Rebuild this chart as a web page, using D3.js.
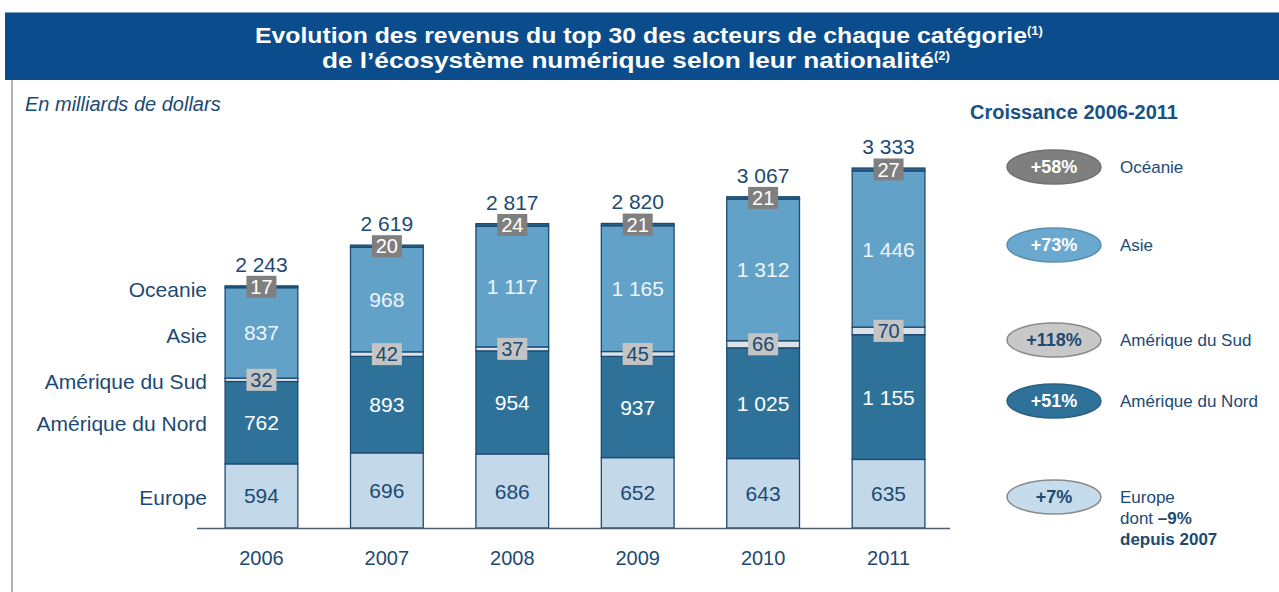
<!DOCTYPE html>
<html lang="fr">
<head>
  <meta charset="utf-8" />
  <title>Evolution des revenus du top 30</title>
  <script src="https://cdn.jsdelivr.net/npm/d3@7"></script>
  <style>
    body { margin: 0; background: #fff; }
    svg text { font-family: "Liberation Sans", Arial, sans-serif; }
  </style>
</head>
<body>
<div id="chart"></div>
<script>
  // données (milliards de dollars)
  const years = ["2006", "2007", "2008", "2009", "2010", "2011"];
  const europe = [594, 696, 686, 652, 643, 635];
  const nordAm = [762, 893, 954, 937, 1025, 1155];
  const sudAm = [32, 42, 37, 45, 66, 70];
  const asie = [837, 968, 1117, 1165, 1312, 1446];
  const oceanie = [17, 20, 24, 21, 21, 27];
  const totals = [2243, 2619, 2817, 2820, 3067, 3333];

  const regions = ["Europe", "Amérique du Nord", "Amérique du Sud", "Asie", "Oceanie"];
  const growth = ["+7%", "+51%", "+118%", "+73%", "+58%"];

  const W = 1279, H = 592;
  const navy = "#1c4a72";
  const fmt = d3.formatLocale({ decimal: ",", thousands: "\u00a0", grouping: [3], currency: ["", " $"] }).format(",d");

  const svg = d3.select("#chart").append("svg")
    .attr("width", W).attr("height", H);

  // bandeau titre
  svg.append("rect").attr("x", 5).attr("y", 12).attr("width", W - 5).attr("height", 68)
    .attr("fill", "#0b4d8c");
  svg.append("line").attr("x1", 5).attr("x2", W).attr("y1", 12.5).attr("y2", 12.5)
    .attr("stroke", "#7f9fc0").attr("stroke-width", 1);
  const t1 = svg.append("text").attr("x", 255).attr("y", 43)
    .attr("fill", "#fff").attr("font-weight", "bold").attr("font-size", 22);
  t1.append("tspan").attr("textLength", 772).attr("lengthAdjust", "spacingAndGlyphs")
    .text("Evolution des revenus du top 30 des acteurs de chaque catégorie");
  t1.append("tspan").attr("font-size", 13).attr("dy", -8).text("(1)");
  const t2 = svg.append("text").attr("x", 322).attr("y", 68)
    .attr("fill", "#fff").attr("font-weight", "bold").attr("font-size", 22);
  t2.append("tspan").attr("textLength", 612).attr("lengthAdjust", "spacingAndGlyphs")
    .text("de l’écosystème numérique selon leur nationalité");
  t2.append("tspan").attr("font-size", 13).attr("dy", -8).text("(2)");

  // filet gauche
  svg.append("line").attr("x1", 12).attr("x2", 12).attr("y1", 80).attr("y2", H)
    .attr("stroke", "#9a9a9a").attr("stroke-width", 1.5);

  svg.append("text").attr("x", 25).attr("y", 111).attr("font-style", "italic")
    .attr("font-size", 20).attr("fill", navy).text("En milliards de dollars");

  // échelles
  const x = d3.scaleBand().domain(years).range([200, 950]).paddingInner(0.42).paddingOuter(0.2);
  const y = d3.scaleLinear().domain([0, 3500]).range([528, 150]);

  const stackData = years.map((yr, i) => ({
    year: yr, Europe: europe[i], "Amérique du Nord": nordAm[i], "Amérique du Sud": sudAm[i],
    Asie: asie[i], Oceanie: oceanie[i], total: totals[i]
  }));
  const series = d3.stack().keys(regions)(stackData);

  const fills = {
    "Europe": "#c3d9ea",
    "Amérique du Nord": "#2f7299",
    "Amérique du Sud": "#dce2e7",
    "Asie": "#63a2c8",
    "Oceanie": "#2c6488"
  };

  const g = svg.append("g");
  series.forEach(s => {
    g.selectAll(null).data(s).join("rect")
      .attr("x", d => x(d.data.year))
      .attr("width", x.bandwidth())
      .attr("y", d => y(d[1]))
      .attr("height", d => y(d[0]) - y(d[1]))
      .attr("fill", fills[s.key])
      .attr("stroke", navy).attr("stroke-width", 1.3);
  });

  // axe
  svg.append("line").attr("x1", 197).attr("x2", 950).attr("y1", 528.5).attr("y2", 528.5)
    .attr("stroke", "#51606e").attr("stroke-width", 1.5);
  const xAxis = svg.append("g").attr("transform", "translate(0,528)")
    .call(d3.axisBottom(x).tickSize(0).tickPadding(23));
  xAxis.select(".domain").remove();
  xAxis.selectAll("text").attr("font-size", 20).attr("fill", navy)
    .attr("font-family", "Liberation Sans, Arial, sans-serif");

  const cx = d => x(d.data.year) + x.bandwidth() / 2;
  const mid = d => (y(d[0]) + y(d[1])) / 2;

  // étiquettes internes
  const inner = [
    { s: series[0], color: navy },
    { s: series[1], color: "#ffffff" },
    { s: series[3], color: "#eef5fb" }
  ];
  inner.forEach(o => {
    g.selectAll(null).data(o.s).join("text")
      .attr("x", cx).attr("y", mid).attr("dy", "0.36em")
      .attr("text-anchor", "middle").attr("font-size", 21).attr("fill", o.color)
      .text(d => fmt(d[1] - d[0]));
  });

  // pastilles Amérique du Sud et Océanie
  function boxes(s, fill, color) {
    const b = g.selectAll(null).data(s).join("g")
      .attr("transform", d => `translate(${cx(d)},${mid(d)})`);
    b.append("rect").attr("x", -15).attr("y", -11).attr("width", 30).attr("height", 22).attr("fill", fill);
    b.append("text").attr("text-anchor", "middle").attr("dy", "0.36em").attr("font-size", 20)
      .attr("fill", color).text(d => fmt(d[1] - d[0]));
  }
  boxes(series[2], "#c4c4c4", navy);
  boxes(series[4], "#7f7f7f", "#ffffff");

  // totaux
  g.selectAll(null).data(series[4]).join("text")
    .attr("x", cx).attr("y", d => y(d[1]) - 14)
    .attr("text-anchor", "middle").attr("font-size", 21).attr("fill", navy)
    .text(d => fmt(d.data.total));

  // noms des régions à gauche
  const leftY = { "Europe": 497, "Amérique du Nord": 423, "Amérique du Sud": 381, "Asie": 335, "Oceanie": 289 };
  regions.forEach(r => {
    svg.append("text").attr("x", 207).attr("y", leftY[r]).attr("dy", "0.36em")
      .attr("text-anchor", "end").attr("font-size", 21).attr("fill", navy).text(r);
  });

  // croissance 2006-2011
  svg.append("text").attr("x", 970).attr("y", 119).attr("font-size", 20).attr("font-weight", "bold")
    .attr("fill", "#1a5184").text("Croissance 2006-2011");

  const legend = [
    { key: "Oceanie", lbl: "Océanie", y: 167, fill: "#7f7f7f", stroke: "#707070", tc: "#ffffff" },
    { key: "Asie", lbl: "Asie", y: 245, fill: "#6aa8d0", stroke: "#5a8fb0", tc: "#ffffff" },
    { key: "Amérique du Sud", lbl: "Amérique du Sud", y: 340, fill: "#c8c8c8", stroke: "#8a8a8a", tc: navy },
    { key: "Amérique du Nord", lbl: "Amérique du Nord", y: 401, fill: "#2f7299", stroke: "#2a5f80", tc: "#ffffff" },
    { key: "Europe", lbl: "Europe", y: 497, fill: "#c6dcec", stroke: "#8a8a8a", tc: navy }
  ];
  legend.forEach(l => {
    const gr = growth[regions.indexOf(l.key)];
    svg.append("ellipse").attr("cx", 1054).attr("cy", l.y).attr("rx", 47).attr("ry", 17)
      .attr("fill", l.fill).attr("stroke", l.stroke).attr("stroke-width", 1.5);
    svg.append("text").attr("x", 1054).attr("y", l.y).attr("dy", "0.36em").attr("text-anchor", "middle")
      .attr("font-size", 18).attr("font-weight", "bold").attr("fill", l.tc).text(gr);
    svg.append("text").attr("x", 1120).attr("y", l.y).attr("dy", "0.36em")
      .attr("font-size", 17).attr("fill", navy).text(l.lbl);
  });
  const eu = svg.append("text").attr("x", 1120).attr("y", 518).attr("dy", "0.36em")
    .attr("font-size", 17).attr("fill", navy);
  eu.append("tspan").text("dont ");
  eu.append("tspan").attr("font-weight", "bold").text("–9%");
  svg.append("text").attr("x", 1120).attr("y", 539).attr("dy", "0.36em")
    .attr("font-size", 17).attr("font-weight", "bold").attr("fill", navy).text("depuis 2007");
</script>
</body>
</html>
